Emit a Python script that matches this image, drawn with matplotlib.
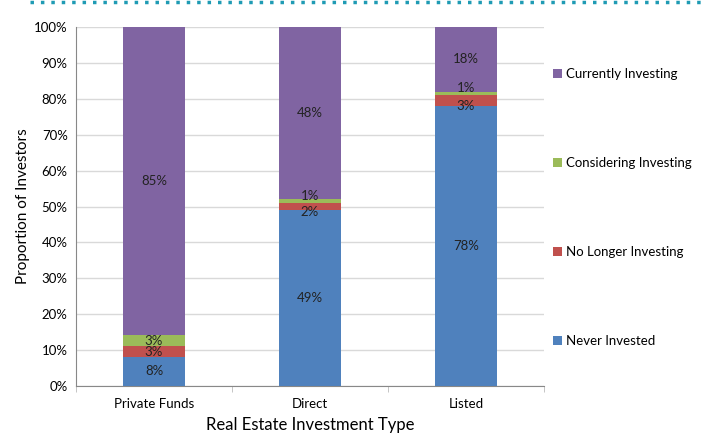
import numpy as np
import matplotlib.pyplot as plt
from matplotlib.lines import Line2D

plt.rcParams['font.family'] = ['Lato', 'DejaVu Sans']

# データ (%)
types = ['Private Funds', 'Direct', 'Listed']
never_invested = [8, 49, 78]
no_longer = [3, 2, 3]
considering = [3, 1, 1]
currently = [85, 48, 18]

series = [
    ('Never Invested', never_invested, '#4F81BD'),
    ('No Longer Investing', no_longer, '#C0504D'),
    ('Considering Investing', considering, '#9BBB59'),
    ('Currently Investing', currently, '#8064A2'),
]

fig = plt.figure(figsize=(7.07, 4.34), dpi=100)
ax = fig.add_axes([76 / 707, 48 / 434, 468 / 707, 359 / 434])

# 100%積み上げ
totals = np.sum([s[1] for s in series], axis=0)
x = np.arange(len(types))
bottom = np.zeros(len(types))
handles = []
for name, vals, col in series:
    raw = np.array(vals)
    share = raw / totals * 100
    b = ax.bar(x, share, 0.4, bottom=bottom, color=col, label=name, zorder=3)
    handles.append(b)
    for i, (xi, v, bt) in enumerate(zip(x, share, bottom)):
        # 細いセグメントのラベルを少しずらす
        dy = 0
        if considering[i] < 2:
            if name == 'Considering Investing':
                dy = 4
            elif name == 'No Longer Investing':
                dy = -4
        ax.annotate(f'{raw[i]}%', (xi, bt + v / 2), xytext=(0, dy),
                    textcoords='offset points', ha='center', va='center',
                    fontsize=9.5, color='#222222', zorder=4)
    bottom += share

ax.set_xlim(-0.5, 2.5)
ax.set_ylim(0, 100)
ax.set_yticks(np.arange(0, 101, 10))
ax.set_yticklabels([f'{t}%' for t in range(0, 101, 10)])
ax.set_xticks(x)
ax.set_xticklabels(types)
ax.set_xticks([-0.5, 0.5, 1.5, 2.5], minor=True)
ax.tick_params(axis='x', which='major', length=0, pad=9, labelsize=9.5)
ax.tick_params(axis='x', which='minor', length=4, color='#BBBBBB')
ax.tick_params(axis='y', length=0, pad=6, labelsize=9.5)
ax.grid(axis='y', color='#D9D9D9', linewidth=1, zorder=0)
for s in ['top', 'right']:
    ax.spines[s].set_visible(False)
ax.spines['left'].set_color('#888888')
ax.spines['bottom'].set_color('#888888')

ax.set_ylabel('Proportion of Investors', fontsize=11, labelpad=3)
ax.set_xlabel('Real Estate Investment Type', fontsize=12, labelpad=5)

leg = ax.legend(handles[::-1], [s[0] for s in series][::-1],
                loc='upper left', bbox_to_anchor=(1.0, 0.912),
                frameon=False, fontsize=9.5, handlelength=0.7, handleheight=0.7,
                handletextpad=0.3, labelspacing=5.85, borderaxespad=0.3)

# 上部の点線
fig.add_artist(Line2D([30 / 707, 1.0], [0.995, 0.995], transform=fig.transFigure,
                      color='#1F9BB4', linestyle=(0, (1, 2)), linewidth=2.5))

fig.savefig('out.png', dpi=100)
